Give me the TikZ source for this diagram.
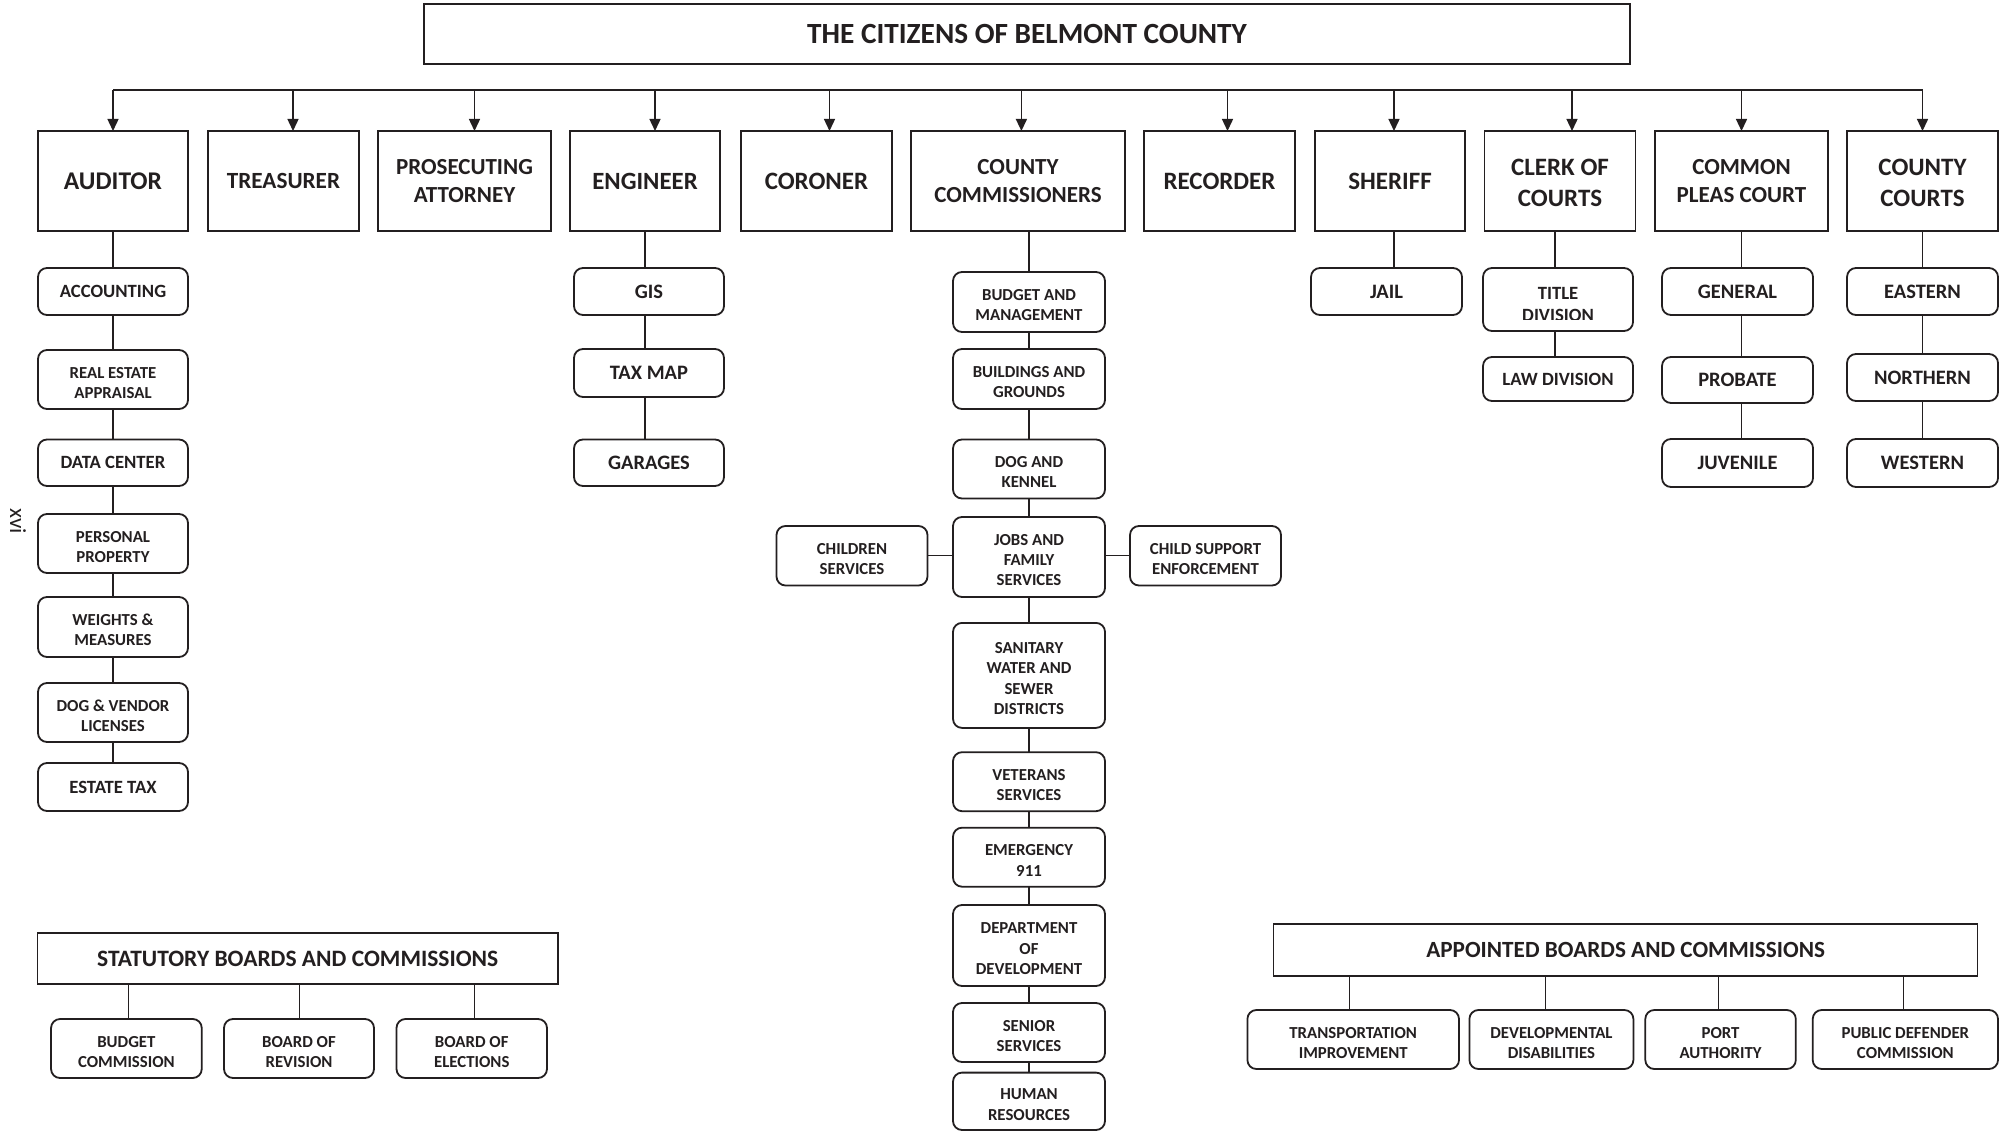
\documentclass[tikz,border=0pt]{standalone}
\usepackage{fontspec}
\setmainfont{Carlito}
\usetikzlibrary{arrows.meta}
\definecolor{ink}{HTML}{231F20}
\newcommand{\tsx}{\rule{0pt}{17.5pt}}
\newcommand{\tsy}{\rule{0pt}{20pt}}
\tikzset{
  sz/.style n args={2}{minimum width=#1pt, minimum height=#2pt},
  f/.style n args={2}{font=\bfseries\fontsize{#1}{#2}\selectfont},
  topbox/.style={draw=ink, line width=1.5pt, inner sep=0pt, outer sep=0pt, align=center, text=ink, f={24}{28.5}},
  subbox/.style={draw=ink, line width=1.8pt, rounded corners=9pt, inner sep=0pt, outer sep=0pt, align=center, text=ink, f={16.8}{20.3}},
  bigtxt/.style={f={20.5}{24}},
  midtxt/.style={f={18.7}{22}},
  conn/.style={draw=ink, line width=1.4pt},
  arr/.style={conn, -{Triangle[length=12pt,width=11pt]}},
}
\begin{document}
\begin{tikzpicture}[x=1pt,y=-1pt]
\fill[white] (0,0) rectangle (2009,1131);
\useasboundingbox (0,0) rectangle (2009,1131);

% title
\node[topbox, sz={1206}{60}, f={29.3}{33}] (title) at (1027,34) {THE CITIZENS OF BELMONT COUNTY};

% top-level offices
\node[topbox, sz={150}{100}, f={25.5}{29}] (auditor) at (113,181) {AUDITOR};
\node[topbox, sz={151}{100}, f={23.2}{27.5}] (treasurer) at (283.5,181) {TREASURER};
\node[topbox, sz={173}{100}, f={23}{27.5}] (prosecuting) at (464.5,181) {PROSECUTING\\ATTORNEY};
\node[topbox, sz={150}{100}, f={24.8}{29}] (engineer) at (645,181) {ENGINEER};
\node[topbox, sz={151}{100}, f={25}{29}] (coroner) at (816.5,181) {CORONER};
\node[topbox, sz={214}{100}, f={23}{27.5}] (commissioners) at (1018,181) {COUNTY\\COMMISSIONERS};
\node[topbox, sz={151}{100}, f={25}{29}] (recorder) at (1219.5,181) {RECORDER};
\node[topbox, sz={150}{100}, f={25}{29}] (sheriff) at (1390,181) {SHERIFF};
\node[topbox, sz={151}{100}, f={25}{31}] (clerk) at (1560,181) {\tsy CLERK OF\\COURTS};
\node[topbox, sz={173}{100}, f={23}{28.5}] (common) at (1741.5,181) {COMMON\\PLEAS COURT};
\node[topbox, sz={151}{100}, f={25}{31}] (countycourts) at (1922.5,181) {\tsy COUNTY\\COURTS};

% bus and arrows
\coordinate (bus) at (113,90);
\draw[conn] (bus) -- (bus -| countycourts.north);
\coordinate (aA) at (auditor.north);
\coordinate (aT) at ([xshift=9.5pt]treasurer.north);
\coordinate (aP) at ([xshift=10pt]prosecuting.north);
\coordinate (aE) at ([xshift=10pt]engineer.north);
\coordinate (aC) at ([xshift=13pt]coroner.north);
\coordinate (aM) at ([xshift=3.4pt]commissioners.north);
\coordinate (aR) at ([xshift=8pt]recorder.north);
\coordinate (aS) at ([xshift=4pt]sheriff.north);
\coordinate (aK) at ([xshift=12pt]clerk.north);
\coordinate (aO) at (common.north);
\coordinate (aY) at (countycourts.north);
\foreach \a in {aA,aT,aP,aE,aC,aM,aR,aS,aK,aO,aY}
  \draw[arr] (\a |- bus) -- (\a);

% auditor column
\node[subbox, sz={150}{47}, midtxt] (acc) at (113,291.5) {ACCOUNTING};
\node[subbox, sz={150}{59}] (rea) at (113,379.5) {\tsx REAL ESTATE\\APPRAISAL};
\node[subbox, sz={150}{46.5}, midtxt] (dat) at (113,462.75) {DATA CENTER};
\node[subbox, sz={150}{59}] (per) at (113,543.5) {\tsx PERSONAL\\PROPERTY};
\node[subbox, sz={150}{60}] (wei) at (113,627) {\tsx WEIGHTS \&\\MEASURES};
\node[subbox, sz={150}{59}] (dog) at (113,712.5) {\tsx DOG \& VENDOR\\LICENSES};
\node[subbox, sz={150}{48}, midtxt] (est) at (113,787) {ESTATE TAX};
\draw[conn] (auditor.south) -- (acc.north);
\draw[conn] (acc.south) -- (rea.north);
\draw[conn] (rea.south) -- (dat.north);
\draw[conn] (dat.south) -- (per.north);
\draw[conn] (per.south) -- (wei.north);
\draw[conn] (wei.south) -- (dog.north);
\draw[conn] (dog.south) -- (est.north);

% engineer column
\node[subbox, sz={150}{47}, bigtxt] (gis) at (649,291.5) {GIS};
\node[subbox, sz={150}{48}, bigtxt] (tax) at (649,373) {TAX MAP};
\node[subbox, sz={150}{46.5}, bigtxt] (gar) at (649,462.75) {GARAGES};
\draw[conn] (engineer.south) -- (engineer.south |- gis.north);
\draw[conn] (engineer.south |- gis.south) -- (engineer.south |- tax.north);
\draw[conn] (engineer.south |- tax.south) -- (engineer.south |- gar.north);

% commissioners column
\node[subbox, sz={152}{60}] (bud) at (1029,302) {\tsx BUDGET AND\\MANAGEMENT};
\node[subbox, sz={152}{60}] (bld) at (1029,379) {\tsx BUILDINGS AND\\GROUNDS};
\node[subbox, sz={152}{59}] (dgk) at (1029,469) {\tsx DOG AND\\KENNEL};
\node[subbox, sz={152}{80}] (job) at (1029,557) {\tsx JOBS AND\\FAMILY\\SERVICES};
\node[subbox, sz={151}{59.5}] (chi) at (852,555.75) {\tsx CHILDREN\\SERVICES};
\node[subbox, sz={151}{59.5}] (csu) at (1205.5,555.75) {\tsx CHILD SUPPORT\\ENFORCEMENT};
\node[subbox, sz={152}{105}] (san) at (1029,675.4) {\tsx SANITARY\\WATER AND\\SEWER\\DISTRICTS};
\node[subbox, sz={152}{59}] (vet) at (1029,781.7) {\tsx VETERANS\\SERVICES};
\node[subbox, sz={152}{59}] (eme) at (1029,857.2) {\tsx EMERGENCY\\911};
\node[subbox, sz={152}{81}] (dep) at (1029,945.5) {\tsx DEPARTMENT\\OF\\DEVELOPMENT};
\node[subbox, sz={152}{59}] (sen) at (1029,1032.5) {\tsx SENIOR\\SERVICES};
\node[subbox, sz={152}{57.4}] (hum) at (1029,1101.3) {\tsx HUMAN\\RESOURCES};
\draw[conn] (commissioners.south -| bud.north) -- (bud.north);
\draw[conn] (bud.south) -- (bld.north);
\draw[conn] (bld.south) -- (dgk.north);
\draw[conn] (dgk.south) -- (job.north);
\draw[conn] (job.south) -- (san.north);
\draw[conn] (san.south) -- (vet.north);
\draw[conn] (vet.south) -- (eme.north);
\draw[conn] (eme.south) -- (dep.north);
\draw[conn] (dep.south) -- (sen.north);
\draw[conn] (sen.south) -- (hum.north);
\draw[conn] (chi.east) -- (chi.east -| job.west);
\draw[conn] (csu.west) -- (csu.west -| job.east);

% sheriff
\node[subbox, sz={151}{47}, bigtxt] (jail) at (1386.5,291.5) {JAIL};
\coordinate (sh) at ([xshift=4pt]sheriff.south);
\draw[conn] (sh) -- (sh |- jail.north);

% clerk of courts
\node[subbox, sz={150}{63}] (tit) at (1558,299.5) {};
\begin{scope}
  \clip (tit.north west) rectangle ([yshift=11pt]tit.south east);
  \node[midtxt, text=ink, align=center, inner sep=0pt] (tittext) at ([yshift=-5.5pt]tit.center) {TITLE\\DIVISION};
\end{scope}
\node[subbox, sz={150}{44}, midtxt] (law) at (1558,379) {LAW DIVISION};
\coordinate (cl) at ([xshift=-5pt]clerk.south);
\draw[conn] (cl) -- (cl |- tit.north);
\draw[conn] (cl |- tit.south) -- (cl |- law.north);

% common pleas
\node[subbox, sz={151}{47}, bigtxt] (gen) at (1737.5,291.5) {GENERAL};
\node[subbox, sz={151}{46}, bigtxt] (pro) at (1737.5,380) {PROBATE};
\node[subbox, sz={151}{48}, bigtxt] (juv) at (1737.5,463) {JUVENILE};
\draw[conn] (common.south) -- (common.south |- gen.north);
\draw[conn] (common.south |- gen.south) -- (common.south |- pro.north);
\draw[conn] (common.south |- pro.south) -- (common.south |- juv.north);

% county courts
\node[subbox, sz={151}{47}, bigtxt] (eas) at (1922.5,291.5) {EASTERN};
\node[subbox, sz={151}{47}, bigtxt] (nor) at (1922.5,377.5) {NORTHERN};
\node[subbox, sz={151}{48}, bigtxt] (wes) at (1922.5,463) {WESTERN};
\draw[conn] (countycourts.south) -- (eas.north);
\draw[conn] (eas.south) -- (nor.north);
\draw[conn] (nor.south) -- (wes.north);

% statutory boards
\node[topbox, sz={520.5}{51}, f={23.5}{27}] (stat) at (297.75,958.5) {STATUTORY BOARDS AND COMMISSIONS};
\node[subbox, sz={150.7}{59}] (bc) at (126.4,1048.5) {\tsx BUDGET\\COMMISSION};
\node[subbox, sz={150}{59}] (br) at (299,1048.5) {\tsx BOARD OF\\REVISION};
\node[subbox, sz={150.5}{59}] (be) at (471.75,1048.5) {\tsx BOARD OF\\ELECTIONS};
\coordinate (s1) at ([xshift=2pt]bc.north);
\coordinate (s2) at ([xshift=0.7pt]br.north);
\coordinate (s3) at ([xshift=2.8pt]be.north);
\draw[conn] (stat.south -| s1) -- (s1);
\draw[conn] (stat.south -| s2) -- (s2);
\draw[conn] (stat.south -| s3) -- (s3);

% appointed boards
\node[topbox, sz={704}{52}, f={23.2}{27}] (appt) at (1625.65,950) {APPOINTED BOARDS AND COMMISSIONS};
\node[subbox, sz={211.6}{59}] (tra) at (1353.2,1039.5) {\tsx TRANSPORTATION\\IMPROVEMENT};
\node[subbox, sz={164}{59}] (dev) at (1551.4,1039.5) {\tsx DEVELOPMENTAL\\DISABILITIES};
\node[subbox, sz={150.5}{59}] (por) at (1720.55,1039.5) {\tsx PORT\\AUTHORITY};
\node[subbox, sz={185.3}{59}] (pub) at (1905.35,1039.5) {\tsx PUBLIC DEFENDER\\COMMISSION};
\coordinate (p1) at ([xshift=-4pt]tra.north);
\coordinate (p2) at ([xshift=-6pt]dev.north);
\coordinate (p3) at ([xshift=-2pt]por.north);
\coordinate (p4) at ([xshift=-2pt]pub.north);
\draw[conn] (appt.south -| p1) -- (p1);
\draw[conn] (appt.south -| p2) -- (p2);
\draw[conn] (appt.south -| p3) -- (p3);
\draw[conn] (appt.south -| p4) -- (p4);

% page number
\node[rotate=-90, text=ink, font=\fontsize{23}{25}\selectfont, inner sep=0pt] (pagenum) at (18,521) {xvi};
\end{tikzpicture}
\end{document}
